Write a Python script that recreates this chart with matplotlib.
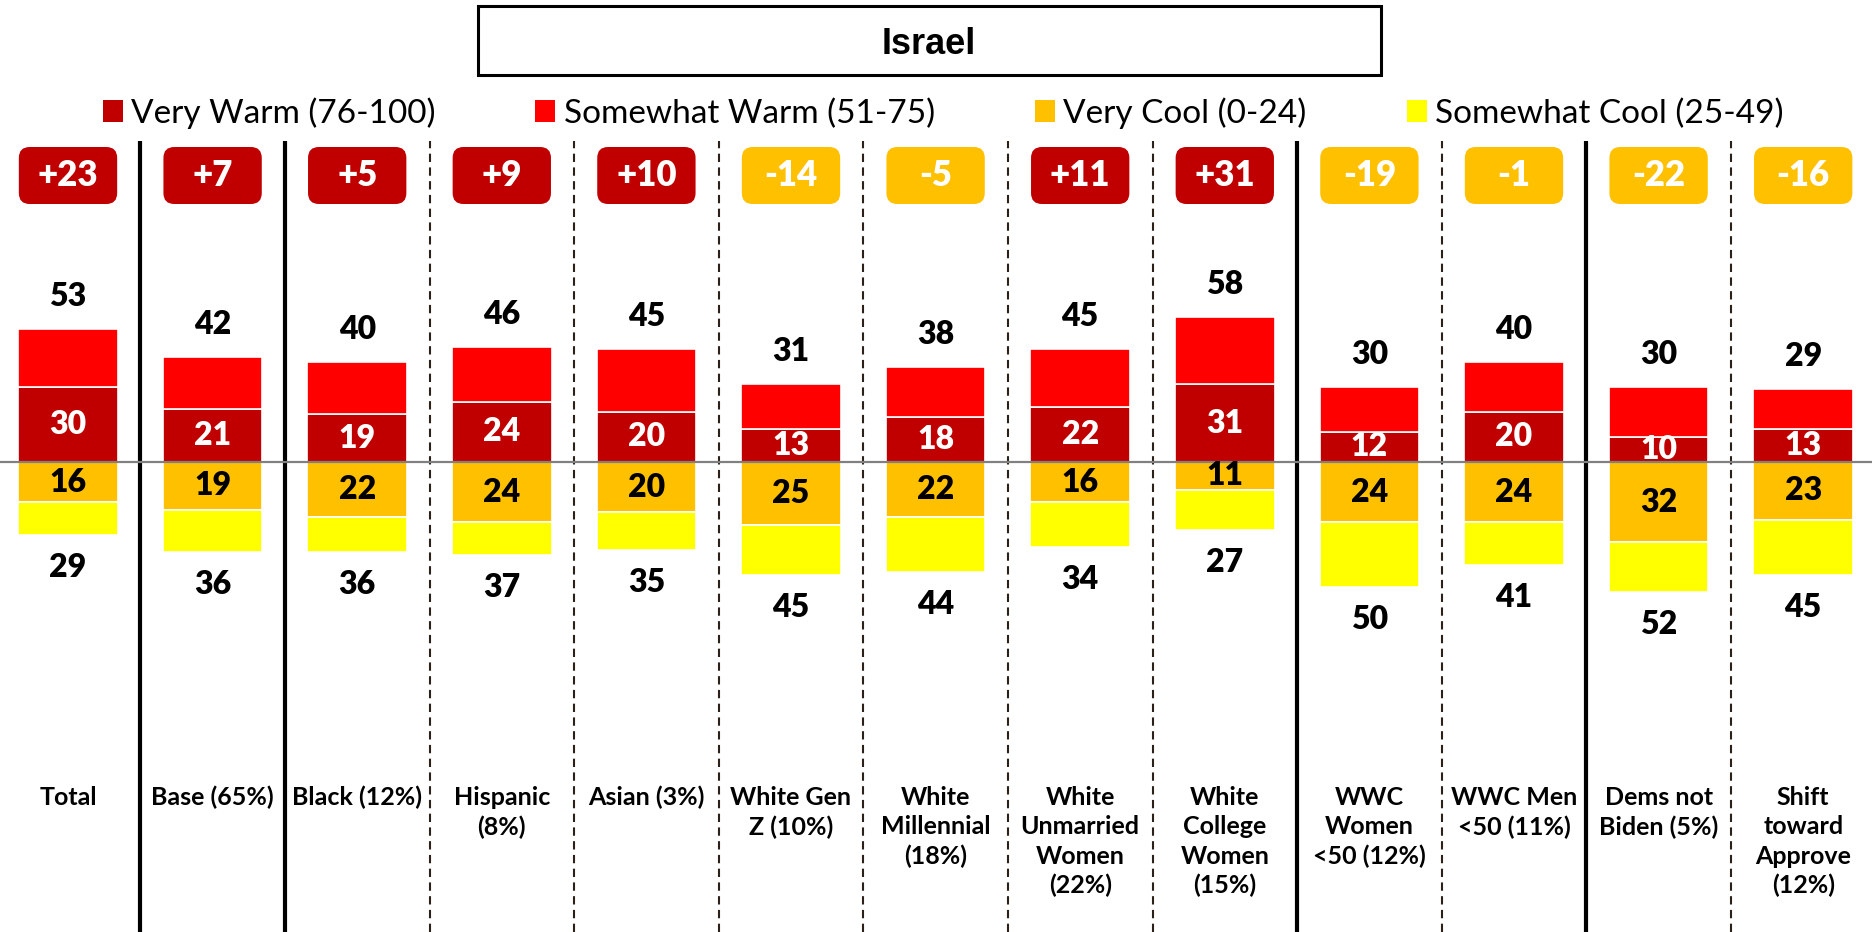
import matplotlib
matplotlib.use("Agg")
import matplotlib.pyplot as plt
from matplotlib.patches import FancyBboxPatch, Rectangle, Patch

plt.rcParams["font.family"] = ["Lato", "DejaVu Sans"]

# ---------------------------------------------------------------------------
# Data
# ---------------------------------------------------------------------------
categories = [
    "Total", "Base (65%)", "Black (12%)", "Hispanic\n(8%)", "Asian (3%)",
    "White Gen\nZ (10%)", "White\nMillennial\n(18%)",
    "White\nUnmarried\nWomen\n(22%)", "White\nCollege\nWomen\n(15%)",
    "WWC\nWomen\n<50 (12%)", "WWC Men\n<50 (11%)", "Dems not\nBiden (5%)",
    "Shift\ntoward\nApprove\n(12%)",
]
very_warm = [30, 21, 19, 24, 20, 13, 18, 22, 31, 12, 20, 10, 13]
somewhat_warm = [23, 21, 21, 22, 25, 18, 20, 23, 27, 18, 20, 20, 16]
very_cool = [16, 19, 22, 24, 20, 25, 22, 16, 11, 24, 24, 32, 23]
somewhat_cool = [13, 17, 14, 13, 15, 20, 22, 18, 16, 26, 17, 20, 22]
net_rating = [23, 7, 5, 9, 10, -14, -5, 11, 31, -19, -1, -22, -16]

# group dividers: solid after these columns, dashed elsewhere
solid_after = [0, 1, 8, 10]

C_VERY_WARM = "#C00000"
C_SOME_WARM = "#FF0000"
C_VERY_COOL = "#FFC000"
C_SOME_COOL = "#FFFF00"

# ---------------------------------------------------------------------------
# Layout (pixels of the 1872x932 canvas)
# ---------------------------------------------------------------------------
W, H = 1872, 932
PX_COL = 144.6      # horizontal distance between columns
X_FIRST = 68        # centre of first column
PX_UNIT = 2.507     # pixels per percentage point
Y_ZERO = 462        # baseline, from top

n = len(categories)
xs = list(range(n))
warm_total = [a + b for a, b in zip(very_warm, somewhat_warm)]
cool_total = [a + b for a, b in zip(very_cool, somewhat_cool)]

fig = plt.figure(figsize=(W / 100, H / 100), dpi=100)
ax = fig.add_axes([0, 0, 1, 1])
ax.set_xlim(-X_FIRST / PX_COL, (W - X_FIRST) / PX_COL)
ax.set_ylim(-(H - Y_ZERO) / PX_UNIT, Y_ZERO / PX_UNIT)
ax.axis("off")


def px_y(py):
    return (Y_ZERO - py) / PX_UNIT


def px_x(px):
    return (px - X_FIRST) / PX_COL


# stacked bars
bw = 0.69
neg_vc = [-v for v in very_cool]
neg_sc = [-v for v in somewhat_cool]
ax.bar(xs, very_warm, bw, color=C_VERY_WARM, edgecolor="white", linewidth=1.2, zorder=2)
ax.bar(xs, somewhat_warm, bw, bottom=very_warm, color=C_SOME_WARM, edgecolor="white",
       linewidth=1.2, zorder=2)
ax.bar(xs, neg_vc, bw, color=C_VERY_COOL, edgecolor="white", linewidth=1.2, zorder=2)
ax.bar(xs, neg_sc, bw, bottom=neg_vc, color=C_SOME_COOL, edgecolor="white",
       linewidth=1.2, zorder=2)

# zero line
ax.axhline(0, color="#808080", linewidth=1.6, zorder=3)

# value labels
vfs = 23
vw = "heavy"
for i in xs:
    ax.text(i, very_warm[i] / 2, str(very_warm[i]), ha="center", va="center",
            color="white", fontsize=vfs, fontweight=vw, zorder=4)
    ax.text(i, -very_cool[i] / 2, str(very_cool[i]), ha="center", va="center",
            color="black", fontsize=vfs, fontweight=vw, zorder=4)
    ax.text(i, warm_total[i] + 13, str(warm_total[i]), ha="center", va="center",
            color="black", fontsize=vfs, fontweight=vw)
    ax.text(i, -cool_total[i] - 13, str(cool_total[i]), ha="center", va="center",
            color="black", fontsize=vfs, fontweight=vw)

# net rating badges
aspect = PX_COL / PX_UNIT
badge_w = 0.68
badge_top, badge_bot = px_y(147), px_y(204)
for i, v in enumerate(net_rating):
    col = C_VERY_WARM if v > 0 else C_VERY_COOL
    box = FancyBboxPatch((i - badge_w / 2, badge_bot), badge_w, badge_top - badge_bot,
                         boxstyle="round,pad=0,rounding_size=0.075",
                         mutation_aspect=aspect, facecolor=col, edgecolor="none",
                         zorder=3)
    ax.add_patch(box)
    ax.text(i, (badge_top + badge_bot) / 2, f"{v:+d}", ha="center", va="center",
            color="white", fontsize=25, fontweight=vw, zorder=4)

# column dividers
sep_top = px_y(141)
sep_bot = ax.get_ylim()[0]
for k in range(n - 1):
    if k in solid_after:
        ax.plot([k + 0.5, k + 0.5], [sep_bot, sep_top], color="black",
                linewidth=3, solid_capstyle="butt", zorder=1)
    else:
        ax.plot([k + 0.5, k + 0.5], [sep_bot, sep_top], color="#2b2118",
                linewidth=1.5, linestyle=(0, (4, 2.6)), zorder=1)

# category labels
for i, lab in enumerate(categories):
    ax.text(i, px_y(786), lab, ha="center", va="top", multialignment="center",
            fontsize=18, fontweight="bold", linespacing=1.33)

# title box
ax.add_patch(Rectangle((px_x(478), px_y(75)), px_x(1381) - px_x(478), px_y(6) - px_y(75),
                       facecolor="white", edgecolor="black", linewidth=2.2, zorder=3))
ax.text(px_x(929), px_y(45), "Israel", ha="center", va="center", fontsize=26,
        fontweight="bold", family=["Liberation Sans", "DejaVu Sans"], zorder=4)

# legend
handles = [Patch(facecolor=c, edgecolor="none")
           for c in (C_VERY_WARM, C_SOME_WARM, C_VERY_COOL, C_SOME_COOL)]
labels = ["Very Warm (76-100)", "Somewhat Warm (51-75)", "Very Cool (0-24)",
          "Somewhat Cool (25-49)"]
fig.legend(handles, labels, loc="center", bbox_to_anchor=(943 / W, 1 - 113 / H),
           ncol=4, frameon=False, fontsize=24, handlelength=0.6, handleheight=0.6,
           handletextpad=0.25, columnspacing=3.0)

fig.savefig("out.png", dpi=100)
